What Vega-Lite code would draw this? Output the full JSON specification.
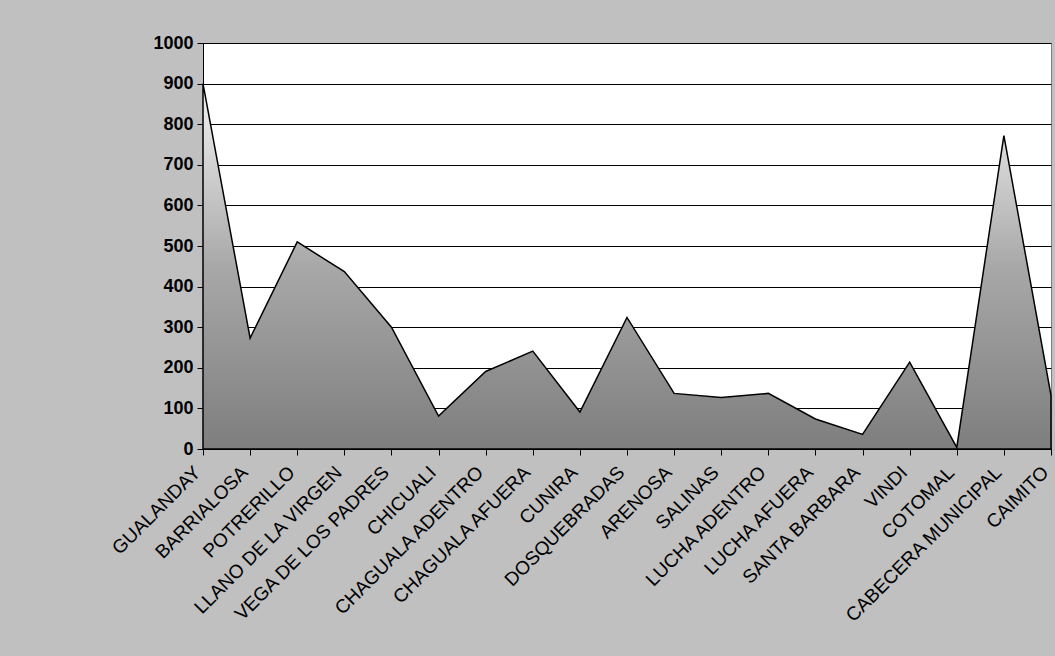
{
  "$schema": "https://vega.github.io/schema/vega-lite/v6.json",
  "width": 848,
  "height": 406,
  "autosize": {"type": "none"},
  "padding": {"left": 203, "top": 43, "right": 4, "bottom": 207},
  "background": "#C0C0C0",
  "config": {
    "view": {"fill": "white", "stroke": "#808080", "strokeWidth": 1},
    "font": "Liberation Sans"
  },
  "data": {
    "values": [
      {"loc": "GUALANDAY", "v": 900},
      {"loc": "BARRIALOSA", "v": 273},
      {"loc": "POTRERILLO", "v": 510},
      {"loc": "LLANO DE LA VIRGEN", "v": 437},
      {"loc": "VEGA DE LOS PADRES", "v": 300},
      {"loc": "CHICUALI", "v": 81},
      {"loc": "CHAGUALA ADENTRO", "v": 191},
      {"loc": "CHAGUALA AFUERA", "v": 241},
      {"loc": "CUNIRA", "v": 91},
      {"loc": "DOSQUEBRADAS", "v": 324},
      {"loc": "ARENOSA", "v": 137},
      {"loc": "SALINAS", "v": 127},
      {"loc": "LUCHA ADENTRO", "v": 137},
      {"loc": "LUCHA AFUERA", "v": 74},
      {"loc": "SANTA BARBARA", "v": 36},
      {"loc": "VINDI", "v": 214},
      {"loc": "COTOMAL", "v": 4},
      {"loc": "CABECERA MUNICIPAL", "v": 772},
      {"loc": "CAIMITO", "v": 132}
    ]
  },
  "mark": {
    "type": "area",
    "stroke": "black",
    "strokeWidth": 1.5,
    "color": {
      "gradient": "linear",
      "x1": 0, "y1": 0, "x2": 0, "y2": 1,
      "stops": [
        {"offset": 0, "color": "#F4F4F4"},
        {"offset": 0.5, "color": "#A8A8A8"},
        {"offset": 1, "color": "#7E7E7E"}
      ]
    }
  },
  "encoding": {
    "x": {
      "field": "loc",
      "type": "nominal",
      "sort": null,
      "scale": {"type": "point", "padding": 0},
      "axis": {
        "title": null,
        "labelAngle": -45,
        "labelAlign": "right",
        "labelBaseline": "middle",
        "labelFont": "Liberation Sans",
        "labelFontSize": 19,
        "labelColor": "black",
        "labelPadding": 14,
        "labelOffset": -6,
        "labelLimit": 400,
        "labelOverlap": false,
        "domainColor": "black",
        "domainWidth": 1,
        "tickColor": "black",
        "tickSize": 6,
        "grid": false
      }
    },
    "y": {
      "field": "v",
      "type": "quantitative",
      "scale": {"domain": [0, 1000], "nice": false},
      "axis": {
        "title": null,
        "format": "d",
        "values": [0, 100, 200, 300, 400, 500, 600, 700, 800, 900, 1000],
        "labelFont": "Liberation Sans",
        "labelFontSize": 18,
        "labelFontWeight": "bold",
        "labelColor": "black",
        "labelPadding": 4,
        "domainColor": "black",
        "domainWidth": 1,
        "tickColor": "black",
        "tickSize": 6,
        "grid": true,
        "gridColor": "black",
        "gridWidth": 1
      }
    }
  }
}
